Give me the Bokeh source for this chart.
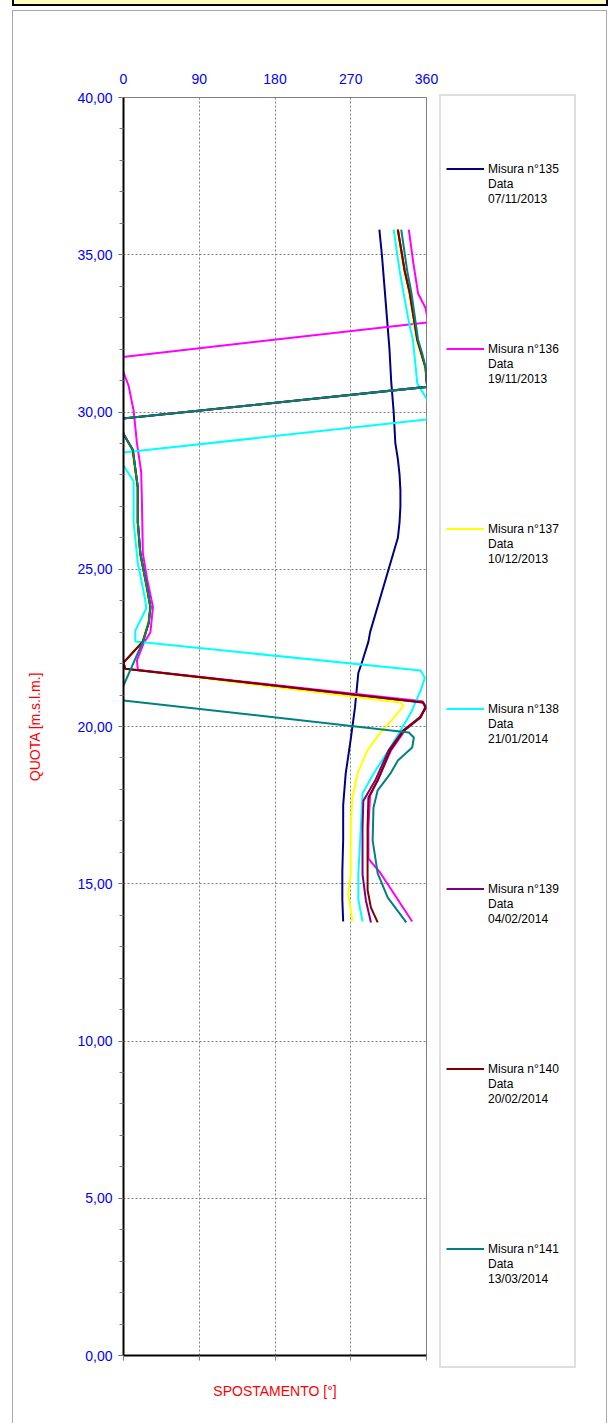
from bokeh.plotting import figure
from bokeh.models import (LinearAxis, FixedTicker, SingleIntervalTicker, CustomJSTickFormatter,
                          Range1d, Legend, LegendItem)
from bokeh.embed import file_html
from bokeh.resources import INLINE

# ---------------- data (depth in m s.l.m., direction in degrees) ----------------
x_ticks = [0, 90, 180, 270, 360]

names = ["Misura n°135", "Misura n°136", "Misura n°137", "Misura n°138",
         "Misura n°139", "Misura n°140", "Misura n°141"]
dates = ["07/11/2013", "19/11/2013", "10/12/2013", "21/01/2014",
         "04/02/2014", "20/02/2014", "13/03/2014"]
colors = ["#000080", "#FF00FF", "#FFFF00", "#00FFFF", "#800080", "#800000", "#008080"]

d135 = [35.8, 35.0, 34.0, 33.0, 32.0, 31.0, 30.0, 29.0, 28.5, 28.0, 27.5, 27.0, 26.5, 26.0,
        25.0, 24.0, 23.0, 22.7, 22.1, 21.7, 20.6, 19.6, 18.5, 17.5, 16.4, 15.4, 14.5, 13.8]
a135 = [304, 307, 310, 313, 316, 318, 321, 323, 326, 328, 329, 329, 328, 326,
        315, 304, 293, 291, 284, 279, 275, 270, 264, 261, 261, 260, 260, 261]

d136 = [35.8, 34.8, 33.77, 33.3, 32.85, 31.75, 31.5, 31.26, 30.84, 30.05, 29.0, 28.1, 27.0,
        25.5, 24.7, 23.8, 23.0, 22.65, 22.1, 21.8, 20.8, 20.65, 20.3, 19.9, 19.25, 18.3,
        17.8, 16.8, 15.8, 15.35, 14.7, 13.8]
a136 = [339, 344, 350, 359, 362, -1, -3, 0, 6, 12, 16, 21, 22,
        23, 28, 35, 32, 24, 16, 17, 355, 359, 353, 335, 318, 302,
        293, 291, 291, 305, 321, 343]

d137 = [35.8, 34.5, 33.8, 32.3, 31.85, 31.4, 31.0, 30.8, 29.79, 29.5, 29.3, 28.8, 27.6, 26.5,
        25.5, 24.4, 23.8, 23.3, 22.7, 22.03, 21.84, 20.76, 20.67, 20.3, 19.8, 19.25, 18.5,
        17.75, 16.8, 15.3, 14.7, 13.8]
a137 = [325, 333, 339, 348, 353, 358, 360, 361, -1, -2, 0, 10, 16, 16,
        19, 27, 31, 29, 22, 0, 2, 329, 333, 322, 305, 290, 278,
        272, 270, 270, 267, 272]

d138 = [35.8, 34.5, 33.0, 32.27, 30.91, 30.43, 30.1, 29.76, 28.71, 28.5, 28.3, 27.8, 26.5,
        25.2, 24.0, 23.75, 23.05, 22.7, 21.78, 21.55, 21.14, 20.41, 19.33, 18.5, 17.87,
        16.8, 15.3, 14.5, 13.8]
a138 = [321, 328, 338, 344, 349, 360, 364, 360, 0, -3, 0, 12, 12,
        17, 26, 27, 14, 14, 353, 358, 353, 341, 317, 297, 284,
        282, 279, 279, 284]

d139 = [35.8, 34.5, 33.8, 32.3, 31.85, 31.4, 31.0, 30.8, 29.79, 29.5, 29.3, 28.8, 27.6, 26.5,
        25.5, 24.4, 23.8, 23.3, 22.7, 22.03, 21.84, 20.76, 20.6, 20.29, 19.87, 19.24, 18.28,
        17.64, 16.8, 15.3, 14.47, 13.77]
a139 = [326, 334, 340, 349, 354, 359, 360, 361, -1, -2, 0, 11, 17, 17,
        20, 28, 32, 30, 23, 0, 2, 356, 359, 352, 332, 315, 299,
        285, 284, 284, 288, 294]

d140 = [35.8, 34.5, 33.8, 32.3, 31.85, 31.4, 31.0, 30.8, 29.79, 29.5, 29.3, 28.8, 27.6, 26.5,
        25.5, 24.4, 23.8, 23.3, 22.7, 22.03, 21.84, 20.76, 20.6, 20.29, 19.87, 19.24, 18.28,
        17.74, 16.8, 14.8, 14.24, 13.77]
a140 = [326, 334, 340, 349, 354, 359, 360, 361, -1, -2, 0, 11, 17, 17,
        20, 28, 32, 30, 23, 0, 2, 356, 359, 353, 333, 317, 302,
        291, 290, 290, 294, 302]

d141 = [35.8, 34.5, 33.8, 32.3, 31.85, 31.4, 31.0, 30.8, 29.79, 29.5, 29.3, 28.8, 27.6, 26.5,
        25.5, 24.4, 23.8, 23.3, 22.7, 21.3, 21.05, 20.83, 19.81, 19.65, 19.33, 18.92, 18.5,
        17.97, 17.42, 16.38, 15.33, 14.56, 13.77]
a141 = [330, 337, 342, 350, 355, 359, 360, 361, -1, -2, 0, 11, 17, 17,
        20, 28, 32, 30, 23, 0, -3, 0, 339, 345, 343, 326, 317,
        302, 297, 296, 302, 314, 336]

depths = [d135, d136, d137, d138, d139, d140, d141]
angles = [a135, a136, a137, a138, a139, a140, a141]

FONT = "Liberation Sans"
BLUE = "#0000FF"
RED = "#FF0000"

p = figure(frame_width=303, frame_height=1258, x_range=Range1d(0, 360), y_range=Range1d(0, 40),
           output_backend="svg", toolbar_location=None,
           min_border_left=123, min_border_right=184, min_border_top=97, min_border_bottom=68)
p.background_fill_color = "white"
p.border_fill_color = None
p.outline_line_color = "#808080"
p.outline_line_width = 1

# page decoration (header strip and outer grey frame) painted behind the canvas
p.styles = {
    "background-color": "white",
    "background-image": ("linear-gradient(#FFFFC0,#FFFFC0), linear-gradient(#000,#000), "
                         "linear-gradient(#A8A8A8,#A8A8A8), linear-gradient(#A8A8A8,#A8A8A8), "
                         "linear-gradient(#A8A8A8,#A8A8A8)"),
    "background-position": "14px 0px, 12px 0px, 12px 10px, 12px 10px, 606px 10px",
    "background-size": "592px 4px, 596px 6px, 1px 1500px, 595px 1px, 1px 1500px",
    "background-repeat": "no-repeat",
    "max-width": "610px",
    "overflow": "hidden",
}

# bottom axis (ticks only)
p.xaxis.ticker = FixedTicker(ticks=x_ticks)
p.xaxis.major_label_text_color = None
p.xaxis.major_label_standoff = 0
p.xaxis.major_tick_out = 5
p.xaxis.major_tick_in = 0
p.xaxis.minor_tick_line_color = None
p.xaxis.axis_line_color = "black"
p.xaxis.axis_line_width = 2
p.xaxis.major_tick_line_color = "#808080"
p.xaxis.axis_label = "SPOSTAMENTO [°]"
p.xaxis.axis_label_text_color = RED
p.xaxis.axis_label_text_font = FONT
p.xaxis.axis_label_text_font_size = "14px"
p.xaxis.axis_label_text_font_style = "normal"
p.xaxis.axis_label_standoff = 22

# left axis
yt = SingleIntervalTicker(interval=5, num_minor_ticks=5)
p.yaxis.ticker = yt
p.yaxis.formatter = CustomJSTickFormatter(code="return tick.toFixed(2).replace('.', ',');")
p.yaxis.major_label_text_color = BLUE
p.yaxis.major_label_text_font = FONT
p.yaxis.major_label_text_font_size = "14px"
p.yaxis.major_label_standoff = 6
p.yaxis.major_tick_out = 5
p.yaxis.major_tick_in = 0
p.yaxis.minor_tick_out = 4
p.yaxis.minor_tick_in = 0
p.yaxis.axis_line_color = "black"
p.yaxis.axis_line_width = 2
p.yaxis.major_tick_line_color = "#555555"
p.yaxis.minor_tick_line_color = "#777777"
p.yaxis.axis_label = "QUOTA [m.s.l.m.]"
p.yaxis.axis_label_text_color = RED
p.yaxis.axis_label_text_font = FONT
p.yaxis.axis_label_text_font_size = "14px"
p.yaxis.axis_label_text_font_style = "normal"
p.yaxis.axis_label_standoff = 31

# top axis with labels
top = LinearAxis(ticker=FixedTicker(ticks=x_ticks))
top.axis_line_color = None
top.major_tick_line_color = None
top.minor_tick_line_color = None
top.major_tick_out = 0
top.major_tick_in = 0
top.major_label_text_color = BLUE
top.major_label_text_font = FONT
top.major_label_text_font_size = "14px"
top.major_label_standoff = 14
p.add_layout(top, "above")

# grids
p.xgrid.ticker = FixedTicker(ticks=x_ticks)
p.ygrid.ticker = yt
for g in (p.xgrid, p.ygrid):
    g.grid_line_color = "#808080"
    g.grid_line_dash = "2 2"
    g.grid_line_width = 1

# series
rends = []
for d, a, c in zip(depths, angles, colors):
    rends.append(p.line(a, d, line_color=c, line_width=2))
spacer = p.line([], [], line_alpha=0)

# legend: one line per text row, spacer rows between measurements
items = [LegendItem(label=" ", renderers=[spacer]) for _ in range(4)]
for k in range(len(names)):
    items.append(LegendItem(label=names[k], renderers=[rends[k]]))
    items.append(LegendItem(label="Data", renderers=[spacer]))
    items.append(LegendItem(label=dates[k], renderers=[spacer]))
    if k < len(names) - 1:
        items += [LegendItem(label=" ", renderers=[spacer]) for _ in range(9)]
items += [LegendItem(label=" ", renderers=[spacer]) for _ in range(5)]

legend = Legend(items=items, location=(13, -13), padding=5, spacing=0, margin=0,
                label_height=15, glyph_height=15, glyph_width=38, label_standoff=4,
                label_width=81, border_line_color="#BFBFBF", border_line_width=2,
                background_fill_color="white", background_fill_alpha=1,
                label_text_font=FONT, label_text_font_size="12px", label_text_color="black")
p.add_layout(legend, "right")

open("out.html", "w").write(file_html(p, INLINE))
